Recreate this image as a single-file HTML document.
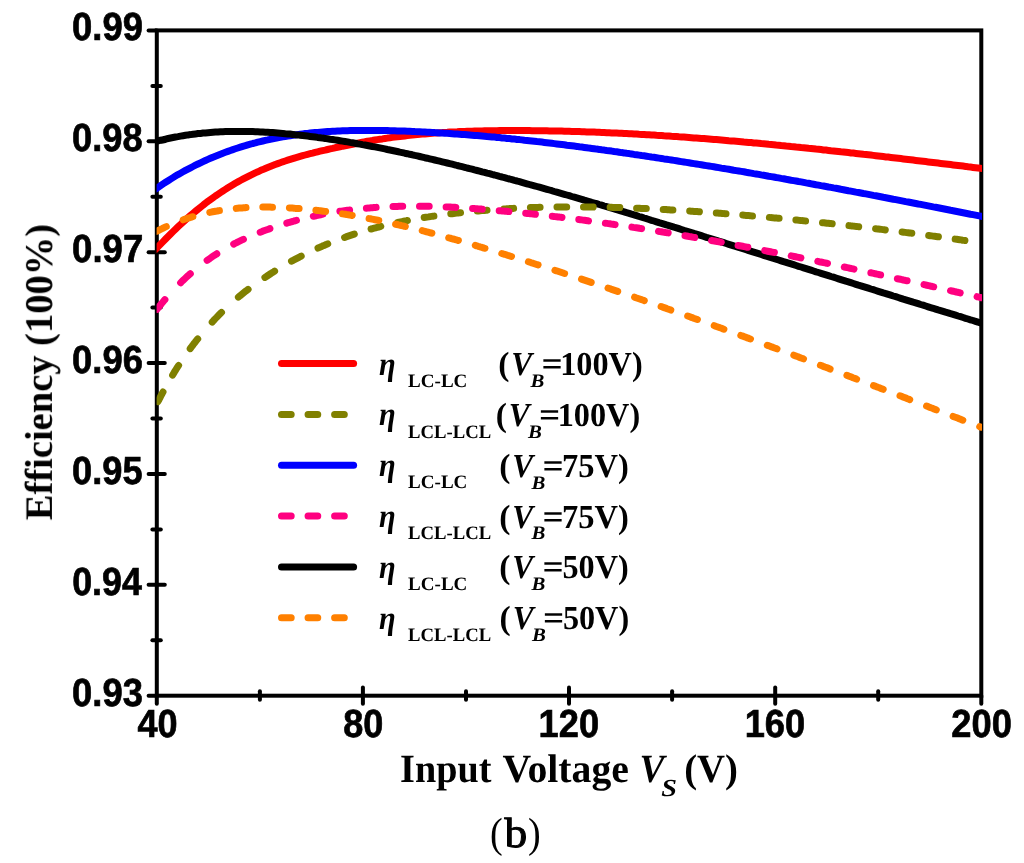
<!DOCTYPE html>
<html><head><meta charset="utf-8"><style>
html,body{margin:0;padding:0;background:#fff;overflow:hidden;}
svg{display:block;}
text{text-rendering:geometricPrecision;}
</style></head><body>
<svg width="1024" height="863" viewBox="0 0 1024 863">
<rect width="1024" height="863" fill="#fff"/>
<g fill="none" stroke="#000" stroke-width="4" stroke-linecap="round">
<rect x="156.8" y="30.4" width="824.5" height="665.3" stroke-linecap="butt"/>
<line x1="148.6" y1="695.7" x2="156.8" y2="695.7"/>
<line x1="152.4" y1="640.3" x2="160.8" y2="640.3"/>
<line x1="148.6" y1="584.8" x2="164.8" y2="584.8"/>
<line x1="152.4" y1="529.4" x2="160.8" y2="529.4"/>
<line x1="148.6" y1="473.9" x2="164.8" y2="473.9"/>
<line x1="152.4" y1="418.5" x2="160.8" y2="418.5"/>
<line x1="148.6" y1="363.1" x2="164.8" y2="363.1"/>
<line x1="152.4" y1="307.6" x2="160.8" y2="307.6"/>
<line x1="148.6" y1="252.2" x2="164.8" y2="252.2"/>
<line x1="152.4" y1="196.7" x2="160.8" y2="196.7"/>
<line x1="148.6" y1="141.3" x2="164.8" y2="141.3"/>
<line x1="152.4" y1="85.9" x2="160.8" y2="85.9"/>
<line x1="148.6" y1="30.4" x2="156.8" y2="30.4"/>
<line x1="156.8" y1="695.7" x2="156.8" y2="703.7"/>
<line x1="259.9" y1="691.3" x2="259.9" y2="699.7"/>
<line x1="362.9" y1="687.5" x2="362.9" y2="703.7"/>
<line x1="466.0" y1="691.3" x2="466.0" y2="699.7"/>
<line x1="569.0" y1="687.5" x2="569.0" y2="703.7"/>
<line x1="672.1" y1="691.3" x2="672.1" y2="699.7"/>
<line x1="775.2" y1="687.5" x2="775.2" y2="703.7"/>
<line x1="878.2" y1="691.3" x2="878.2" y2="699.7"/>
<line x1="981.3" y1="695.7" x2="981.3" y2="703.7"/>
</g>
<defs><clipPath id="c"><rect x="156.6" y="30.4" width="825.4" height="665.3"/></clipPath></defs>
<g clip-path="url(#c)" fill="none" stroke-width="7" stroke-linecap="round" stroke-linejoin="round">
<path d="M155.6,249.4 L158.1,246.7 L160.6,244.1 L163.1,241.6 L165.6,239.0 L168.1,236.5 L170.6,234.0 L173.0,231.6 L175.5,229.2 L178.0,226.8 L180.5,224.5 L183.0,222.2 L185.5,219.9 L188.0,217.7 L190.5,215.5 L193.0,213.4 L195.5,211.3 L198.0,209.2 L200.5,207.2 L203.0,205.3 L205.4,203.3 L207.9,201.4 L210.4,199.6 L212.9,197.8 L215.4,196.0 L217.9,194.3 L220.4,192.6 L222.9,191.0 L225.4,189.4 L227.9,187.8 L230.4,186.3 L232.9,184.8 L235.3,183.3 L237.8,181.9 L240.3,180.5 L242.8,179.2 L245.3,177.9 L247.8,176.6 L250.3,175.3 L252.8,174.1 L255.3,172.9 L257.8,171.8 L260.3,170.6 L262.8,169.6 L265.3,168.5 L267.7,167.5 L270.2,166.5 L272.7,165.5 L275.2,164.5 L277.7,163.6 L280.2,162.7 L282.7,161.8 L285.2,161.0 L287.7,160.2 L290.2,159.4 L292.7,158.6 L295.2,157.8 L297.7,157.1 L300.1,156.4 L302.6,155.7 L305.1,155.0 L307.6,154.3 L310.1,153.7 L312.6,153.1 L315.1,152.4 L317.6,151.8 L320.1,151.2 L322.6,150.6 L325.1,150.1 L327.6,149.5 L330.1,148.9 L332.5,148.4 L335.0,147.8 L337.5,147.3 L340.0,146.8 L342.5,146.2 L345.0,145.7 L347.5,145.2 L350.0,144.7 L352.5,144.2 L355.0,143.7 L357.5,143.2 L360.0,142.7 L362.4,142.2 L364.9,141.8 L367.4,141.3 L369.9,140.9 L372.4,140.5 L374.9,140.0 L377.4,139.6 L379.9,139.2 L382.4,138.9 L384.9,138.5 L387.4,138.1 L389.9,137.8 L392.4,137.4 L394.8,137.1 L397.3,136.8 L399.8,136.5 L402.3,136.2 L404.8,135.9 L407.3,135.6 L409.8,135.3 L412.3,135.1 L414.8,134.8 L417.3,134.6 L419.8,134.3 L422.3,134.1 L424.8,133.9 L427.2,133.7 L429.7,133.5 L432.2,133.3 L434.7,133.1 L437.2,132.9 L439.7,132.7 L442.2,132.6 L444.7,132.4 L447.2,132.3 L449.7,132.1 L452.2,132.0 L454.7,131.9 L457.2,131.8 L459.6,131.6 L462.1,131.5 L464.6,131.4 L467.1,131.3 L469.6,131.3 L472.1,131.2 L474.6,131.1 L477.1,131.0 L479.6,131.0 L482.1,130.9 L484.6,130.8 L487.1,130.8 L489.6,130.8 L492.0,130.7 L494.5,130.7 L497.0,130.7 L499.5,130.6 L502.0,130.6 L504.5,130.6 L507.0,130.6 L509.5,130.6 L512.0,130.6 L514.5,130.6 L517.0,130.6 L519.5,130.6 L521.9,130.6 L524.4,130.6 L526.9,130.6 L529.4,130.6 L531.9,130.7 L534.4,130.7 L536.9,130.7 L539.4,130.7 L541.9,130.8 L544.4,130.8 L546.9,130.8 L549.4,130.9 L551.9,130.9 L554.3,131.0 L556.8,131.0 L559.3,131.1 L561.8,131.1 L564.3,131.2 L566.8,131.3 L569.3,131.3 L571.8,131.4 L574.3,131.5 L576.8,131.6 L579.3,131.6 L581.8,131.7 L584.3,131.8 L586.7,131.9 L589.2,132.0 L591.7,132.1 L594.2,132.1 L596.7,132.2 L599.2,132.3 L601.7,132.4 L604.2,132.5 L606.7,132.7 L609.2,132.8 L611.7,132.9 L614.2,133.0 L616.7,133.1 L619.1,133.2 L621.6,133.3 L624.1,133.5 L626.6,133.6 L629.1,133.7 L631.6,133.8 L634.1,134.0 L636.6,134.1 L639.1,134.3 L641.6,134.4 L644.1,134.5 L646.6,134.7 L649.0,134.8 L651.5,135.0 L654.0,135.1 L656.5,135.3 L659.0,135.4 L661.5,135.6 L664.0,135.8 L666.5,135.9 L669.0,136.1 L671.5,136.3 L674.0,136.4 L676.5,136.6 L679.0,136.8 L681.4,136.9 L683.9,137.1 L686.4,137.3 L688.9,137.5 L691.4,137.7 L693.9,137.9 L696.4,138.0 L698.9,138.2 L701.4,138.4 L703.9,138.6 L706.4,138.8 L708.9,139.0 L711.4,139.2 L713.8,139.4 L716.3,139.6 L718.8,139.8 L721.3,140.0 L723.8,140.2 L726.3,140.4 L728.8,140.7 L731.3,140.9 L733.8,141.1 L736.3,141.3 L738.8,141.5 L741.3,141.7 L743.8,142.0 L746.2,142.2 L748.7,142.4 L751.2,142.6 L753.7,142.9 L756.2,143.1 L758.7,143.3 L761.2,143.6 L763.7,143.8 L766.2,144.0 L768.7,144.3 L771.2,144.5 L773.7,144.7 L776.1,145.0 L778.6,145.2 L781.1,145.5 L783.6,145.7 L786.1,146.0 L788.6,146.2 L791.1,146.5 L793.6,146.7 L796.1,147.0 L798.6,147.2 L801.1,147.5 L803.6,147.7 L806.1,148.0 L808.5,148.3 L811.0,148.5 L813.5,148.8 L816.0,149.1 L818.5,149.3 L821.0,149.6 L823.5,149.9 L826.0,150.1 L828.5,150.4 L831.0,150.7 L833.5,150.9 L836.0,151.2 L838.5,151.5 L840.9,151.8 L843.4,152.0 L845.9,152.3 L848.4,152.6 L850.9,152.9 L853.4,153.1 L855.9,153.4 L858.4,153.7 L860.9,154.0 L863.4,154.3 L865.9,154.5 L868.4,154.8 L870.9,155.1 L873.3,155.4 L875.8,155.7 L878.3,156.0 L880.8,156.3 L883.3,156.6 L885.8,156.9 L888.3,157.1 L890.8,157.4 L893.3,157.7 L895.8,158.0 L898.3,158.3 L900.8,158.6 L903.3,158.9 L905.7,159.2 L908.2,159.5 L910.7,159.8 L913.2,160.1 L915.7,160.4 L918.2,160.7 L920.7,161.0 L923.2,161.3 L925.7,161.6 L928.2,161.9 L930.7,162.2 L933.2,162.5 L935.6,162.8 L938.1,163.1 L940.6,163.4 L943.1,163.7 L945.6,164.0 L948.1,164.3 L950.6,164.6 L953.1,164.9 L955.6,165.2 L958.1,165.5 L960.6,165.8 L963.1,166.1 L965.6,166.4 L968.0,166.8 L970.5,167.1 L973.0,167.4 L975.5,167.7 L978.0,168.0 L980.5,168.3 L983.0,168.6" stroke="#ff0000"/>
<path d="M155.6,189.0 L158.1,187.3 L160.6,185.6 L163.1,183.9 L165.6,182.3 L168.1,180.7 L170.6,179.1 L173.0,177.6 L175.5,176.1 L178.0,174.6 L180.5,173.2 L183.0,171.8 L185.5,170.4 L188.0,169.1 L190.5,167.8 L193.0,166.5 L195.5,165.2 L198.0,164.0 L200.5,162.8 L203.0,161.6 L205.4,160.5 L207.9,159.4 L210.4,158.3 L212.9,157.2 L215.4,156.2 L217.9,155.2 L220.4,154.2 L222.9,153.2 L225.4,152.3 L227.9,151.4 L230.4,150.5 L232.9,149.6 L235.3,148.8 L237.8,148.0 L240.3,147.2 L242.8,146.4 L245.3,145.7 L247.8,144.9 L250.3,144.2 L252.8,143.5 L255.3,142.9 L257.8,142.2 L260.3,141.6 L262.8,141.0 L265.3,140.4 L267.7,139.9 L270.2,139.3 L272.7,138.8 L275.2,138.3 L277.7,137.8 L280.2,137.4 L282.7,136.9 L285.2,136.5 L287.7,136.1 L290.2,135.7 L292.7,135.3 L295.2,134.9 L297.7,134.6 L300.1,134.2 L302.6,133.9 L305.1,133.6 L307.6,133.4 L310.1,133.1 L312.6,132.8 L315.1,132.6 L317.6,132.4 L320.1,132.2 L322.6,132.0 L325.1,131.8 L327.6,131.6 L330.1,131.4 L332.5,131.3 L335.0,131.2 L337.5,131.0 L340.0,130.9 L342.5,130.8 L345.0,130.7 L347.5,130.7 L350.0,130.6 L352.5,130.5 L355.0,130.5 L357.5,130.4 L360.0,130.4 L362.4,130.4 L364.9,130.4 L367.4,130.4 L369.9,130.4 L372.4,130.4 L374.9,130.4 L377.4,130.4 L379.9,130.5 L382.4,130.5 L384.9,130.6 L387.4,130.6 L389.9,130.7 L392.4,130.7 L394.8,130.8 L397.3,130.9 L399.8,131.0 L402.3,131.1 L404.8,131.1 L407.3,131.2 L409.8,131.3 L412.3,131.4 L414.8,131.6 L417.3,131.7 L419.8,131.8 L422.3,131.9 L424.8,132.0 L427.2,132.2 L429.7,132.3 L432.2,132.4 L434.7,132.6 L437.2,132.7 L439.7,132.9 L442.2,133.0 L444.7,133.2 L447.2,133.3 L449.7,133.5 L452.2,133.7 L454.7,133.9 L457.2,134.0 L459.6,134.2 L462.1,134.4 L464.6,134.6 L467.1,134.8 L469.6,135.0 L472.1,135.2 L474.6,135.4 L477.1,135.6 L479.6,135.8 L482.1,136.0 L484.6,136.2 L487.1,136.5 L489.6,136.7 L492.0,136.9 L494.5,137.1 L497.0,137.4 L499.5,137.6 L502.0,137.9 L504.5,138.1 L507.0,138.4 L509.5,138.6 L512.0,138.9 L514.5,139.1 L517.0,139.4 L519.5,139.6 L521.9,139.9 L524.4,140.2 L526.9,140.4 L529.4,140.7 L531.9,141.0 L534.4,141.3 L536.9,141.6 L539.4,141.8 L541.9,142.1 L544.4,142.4 L546.9,142.7 L549.4,143.0 L551.9,143.3 L554.3,143.6 L556.8,143.9 L559.3,144.2 L561.8,144.5 L564.3,144.8 L566.8,145.2 L569.3,145.5 L571.8,145.8 L574.3,146.1 L576.8,146.4 L579.3,146.8 L581.8,147.1 L584.3,147.4 L586.7,147.7 L589.2,148.1 L591.7,148.4 L594.2,148.7 L596.7,149.1 L599.2,149.4 L601.7,149.8 L604.2,150.1 L606.7,150.5 L609.2,150.8 L611.7,151.1 L614.2,151.5 L616.7,151.8 L619.1,152.2 L621.6,152.6 L624.1,152.9 L626.6,153.3 L629.1,153.6 L631.6,154.0 L634.1,154.4 L636.6,154.7 L639.1,155.1 L641.6,155.5 L644.1,155.8 L646.6,156.2 L649.0,156.6 L651.5,157.0 L654.0,157.3 L656.5,157.7 L659.0,158.1 L661.5,158.5 L664.0,158.9 L666.5,159.2 L669.0,159.6 L671.5,160.0 L674.0,160.4 L676.5,160.8 L679.0,161.2 L681.4,161.6 L683.9,162.0 L686.4,162.4 L688.9,162.8 L691.4,163.2 L693.9,163.6 L696.4,164.0 L698.9,164.4 L701.4,164.8 L703.9,165.2 L706.4,165.6 L708.9,166.0 L711.4,166.4 L713.8,166.8 L716.3,167.2 L718.8,167.6 L721.3,168.1 L723.8,168.5 L726.3,168.9 L728.8,169.3 L731.3,169.7 L733.8,170.2 L736.3,170.6 L738.8,171.0 L741.3,171.4 L743.8,171.8 L746.2,172.3 L748.7,172.7 L751.2,173.1 L753.7,173.6 L756.2,174.0 L758.7,174.4 L761.2,174.9 L763.7,175.3 L766.2,175.7 L768.7,176.2 L771.2,176.6 L773.7,177.0 L776.1,177.5 L778.6,177.9 L781.1,178.4 L783.6,178.8 L786.1,179.3 L788.6,179.7 L791.1,180.2 L793.6,180.6 L796.1,181.0 L798.6,181.5 L801.1,181.9 L803.6,182.4 L806.1,182.9 L808.5,183.3 L811.0,183.8 L813.5,184.2 L816.0,184.7 L818.5,185.1 L821.0,185.6 L823.5,186.0 L826.0,186.5 L828.5,187.0 L831.0,187.4 L833.5,187.9 L836.0,188.3 L838.5,188.8 L840.9,189.3 L843.4,189.7 L845.9,190.2 L848.4,190.7 L850.9,191.1 L853.4,191.6 L855.9,192.1 L858.4,192.5 L860.9,193.0 L863.4,193.5 L865.9,193.9 L868.4,194.4 L870.9,194.9 L873.3,195.4 L875.8,195.8 L878.3,196.3 L880.8,196.8 L883.3,197.3 L885.8,197.7 L888.3,198.2 L890.8,198.7 L893.3,199.2 L895.8,199.6 L898.3,200.1 L900.8,200.6 L903.3,201.1 L905.7,201.6 L908.2,202.0 L910.7,202.5 L913.2,203.0 L915.7,203.5 L918.2,204.0 L920.7,204.4 L923.2,204.9 L925.7,205.4 L928.2,205.9 L930.7,206.4 L933.2,206.9 L935.6,207.3 L938.1,207.8 L940.6,208.3 L943.1,208.8 L945.6,209.3 L948.1,209.8 L950.6,210.3 L953.1,210.7 L955.6,211.2 L958.1,211.7 L960.6,212.2 L963.1,212.7 L965.6,213.2 L968.0,213.7 L970.5,214.2 L973.0,214.6 L975.5,215.1 L978.0,215.6 L980.5,216.1 L983.0,216.6" stroke="#0000ff"/>
<path d="M155.6,141.5 L158.1,140.9 L160.6,140.2 L163.1,139.7 L165.6,139.1 L168.1,138.5 L170.6,138.0 L173.0,137.5 L175.5,137.0 L178.0,136.6 L180.5,136.1 L183.0,135.7 L185.5,135.3 L188.0,134.9 L190.5,134.6 L193.0,134.2 L195.5,133.9 L198.0,133.6 L200.5,133.4 L203.0,133.1 L205.4,132.9 L207.9,132.7 L210.4,132.5 L212.9,132.3 L215.4,132.1 L217.9,132.0 L220.4,131.8 L222.9,131.7 L225.4,131.6 L227.9,131.6 L230.4,131.5 L232.9,131.4 L235.3,131.4 L237.8,131.4 L240.3,131.4 L242.8,131.4 L245.3,131.4 L247.8,131.5 L250.3,131.5 L252.8,131.6 L255.3,131.7 L257.8,131.8 L260.3,131.9 L262.8,132.0 L265.3,132.2 L267.7,132.3 L270.2,132.5 L272.7,132.6 L275.2,132.8 L277.7,133.0 L280.2,133.2 L282.7,133.4 L285.2,133.7 L287.7,133.9 L290.2,134.1 L292.7,134.4 L295.2,134.7 L297.7,134.9 L300.1,135.2 L302.6,135.5 L305.1,135.8 L307.6,136.1 L310.1,136.4 L312.6,136.7 L315.1,137.0 L317.6,137.4 L320.1,137.7 L322.6,138.1 L325.1,138.4 L327.6,138.8 L330.1,139.2 L332.5,139.5 L335.0,139.9 L337.5,140.3 L340.0,140.7 L342.5,141.1 L345.0,141.5 L347.5,141.9 L350.0,142.4 L352.5,142.8 L355.0,143.2 L357.5,143.7 L360.0,144.1 L362.4,144.6 L364.9,145.0 L367.4,145.5 L369.9,146.0 L372.4,146.5 L374.9,146.9 L377.4,147.4 L379.9,147.9 L382.4,148.4 L384.9,148.9 L387.4,149.5 L389.9,150.0 L392.4,150.5 L394.8,151.0 L397.3,151.5 L399.8,152.1 L402.3,152.6 L404.8,153.2 L407.3,153.7 L409.8,154.3 L412.3,154.8 L414.8,155.4 L417.3,155.9 L419.8,156.5 L422.3,157.1 L424.8,157.7 L427.2,158.2 L429.7,158.8 L432.2,159.4 L434.7,160.0 L437.2,160.6 L439.7,161.2 L442.2,161.8 L444.7,162.4 L447.2,163.0 L449.7,163.6 L452.2,164.2 L454.7,164.8 L457.2,165.5 L459.6,166.1 L462.1,166.7 L464.6,167.3 L467.1,168.0 L469.6,168.6 L472.1,169.2 L474.6,169.9 L477.1,170.5 L479.6,171.1 L482.1,171.8 L484.6,172.4 L487.1,173.1 L489.6,173.7 L492.0,174.4 L494.5,175.0 L497.0,175.7 L499.5,176.4 L502.0,177.0 L504.5,177.7 L507.0,178.4 L509.5,179.0 L512.0,179.7 L514.5,180.4 L517.0,181.0 L519.5,181.7 L521.9,182.4 L524.4,183.1 L526.9,183.8 L529.4,184.5 L531.9,185.2 L534.4,185.8 L536.9,186.5 L539.4,187.2 L541.9,187.9 L544.4,188.6 L546.9,189.3 L549.4,190.0 L551.9,190.7 L554.3,191.5 L556.8,192.2 L559.3,192.9 L561.8,193.6 L564.3,194.3 L566.8,195.0 L569.3,195.7 L571.8,196.5 L574.3,197.2 L576.8,197.9 L579.3,198.6 L581.8,199.3 L584.3,200.1 L586.7,200.8 L589.2,201.5 L591.7,202.3 L594.2,203.0 L596.7,203.7 L599.2,204.5 L601.7,205.2 L604.2,206.0 L606.7,206.7 L609.2,207.4 L611.7,208.2 L614.2,208.9 L616.7,209.7 L619.1,210.4 L621.6,211.2 L624.1,211.9 L626.6,212.7 L629.1,213.4 L631.6,214.2 L634.1,214.9 L636.6,215.7 L639.1,216.5 L641.6,217.2 L644.1,218.0 L646.6,218.7 L649.0,219.5 L651.5,220.3 L654.0,221.0 L656.5,221.8 L659.0,222.6 L661.5,223.3 L664.0,224.1 L666.5,224.9 L669.0,225.6 L671.5,226.4 L674.0,227.2 L676.5,227.9 L679.0,228.7 L681.4,229.5 L683.9,230.3 L686.4,231.0 L688.9,231.8 L691.4,232.6 L693.9,233.4 L696.4,234.1 L698.9,234.9 L701.4,235.7 L703.9,236.5 L706.4,237.3 L708.9,238.0 L711.4,238.8 L713.8,239.6 L716.3,240.4 L718.8,241.2 L721.3,241.9 L723.8,242.7 L726.3,243.5 L728.8,244.3 L731.3,245.1 L733.8,245.9 L736.3,246.6 L738.8,247.4 L741.3,248.2 L743.8,249.0 L746.2,249.8 L748.7,250.6 L751.2,251.3 L753.7,252.1 L756.2,252.9 L758.7,253.7 L761.2,254.5 L763.7,255.3 L766.2,256.1 L768.7,256.8 L771.2,257.6 L773.7,258.4 L776.1,259.2 L778.6,260.0 L781.1,260.8 L783.6,261.6 L786.1,262.3 L788.6,263.1 L791.1,263.9 L793.6,264.7 L796.1,265.5 L798.6,266.3 L801.1,267.0 L803.6,267.8 L806.1,268.6 L808.5,269.4 L811.0,270.2 L813.5,271.0 L816.0,271.8 L818.5,272.5 L821.0,273.3 L823.5,274.1 L826.0,274.9 L828.5,275.7 L831.0,276.5 L833.5,277.2 L836.0,278.0 L838.5,278.8 L840.9,279.6 L843.4,280.4 L845.9,281.2 L848.4,281.9 L850.9,282.7 L853.4,283.5 L855.9,284.3 L858.4,285.1 L860.9,285.8 L863.4,286.6 L865.9,287.4 L868.4,288.2 L870.9,289.0 L873.3,289.7 L875.8,290.5 L878.3,291.3 L880.8,292.1 L883.3,292.9 L885.8,293.6 L888.3,294.4 L890.8,295.2 L893.3,296.0 L895.8,296.7 L898.3,297.5 L900.8,298.3 L903.3,299.1 L905.7,299.8 L908.2,300.6 L910.7,301.4 L913.2,302.2 L915.7,302.9 L918.2,303.7 L920.7,304.5 L923.2,305.2 L925.7,306.0 L928.2,306.8 L930.7,307.6 L933.2,308.3 L935.6,309.1 L938.1,309.9 L940.6,310.6 L943.1,311.4 L945.6,312.2 L948.1,312.9 L950.6,313.7 L953.1,314.4 L955.6,315.2 L958.1,316.0 L960.6,316.7 L963.1,317.5 L965.6,318.3 L968.0,319.0 L970.5,319.8 L973.0,320.5 L975.5,321.3 L978.0,322.1 L980.5,322.8 L983.0,323.6" stroke="#000000"/>
<path d="M157.9,401.7 L158.6,400.4 L159.3,398.9 L160.1,397.5 L160.8,396.0 L161.6,394.6 L162.3,393.2 L163.0,392.0M172.6,375.2 L173.3,373.9 L174.3,372.2 L175.3,370.6 L176.3,369.0 L177.3,367.4 L178.3,365.9 L178.6,365.5M190.2,348.6 L191.3,347.1 L192.6,345.5 L193.8,343.8 L195.1,342.2 L196.3,340.6 L197.6,339.0 L197.7,338.9M212.2,322.1 L213.6,320.5 L215.1,318.9 L216.6,317.4 L218.1,315.8 L219.6,314.3 L221.1,312.8 L221.5,312.4M238.4,297.1 L239.8,295.9 L241.3,294.7 L242.8,293.5 L244.3,292.3 L245.8,291.1 L247.3,290.0 L248.1,289.4M264.9,277.4 L266.4,276.5 L267.9,275.5 L269.4,274.5 L270.9,273.5 L272.4,272.6 L273.9,271.6 L274.6,271.1M291.5,261.2 L292.9,260.5 L294.4,259.7 L295.9,258.9 L297.4,258.1 L298.9,257.3 L300.4,256.5 L301.2,256.1M318.0,248.0 L319.4,247.4 L320.9,246.8 L322.4,246.1 L323.9,245.5 L325.4,244.8 L326.9,244.2 L327.7,243.8M344.6,237.4 L345.9,236.9 L347.4,236.4 L348.9,235.9 L350.4,235.4 L351.9,234.9 L353.4,234.4 L354.3,234.1M371.1,229.0 L372.6,228.6 L374.1,228.2 L375.6,227.8 L377.1,227.4 L378.6,227.0 L380.1,226.6 L380.8,226.4M397.7,222.5 L399.1,222.2 L400.6,221.9 L402.1,221.6 L403.6,221.3 L405.1,221.0 L406.6,220.7 L407.4,220.5M424.2,217.5 L425.6,217.3 L427.1,217.1 L428.6,216.9 L430.1,216.6 L431.6,216.4 L433.1,216.2 L433.9,216.1M450.8,213.8 L452.1,213.7 L453.6,213.5 L455.1,213.3 L456.6,213.1 L458.1,213.0 L459.6,212.8 L460.5,212.7M477.3,211.0 L478.6,210.9 L480.1,210.8 L481.6,210.6 L483.1,210.5 L484.6,210.4 L486.1,210.3 L487.0,210.2M503.9,209.0 L505.4,208.9 L506.9,208.8 L508.4,208.7 L509.9,208.6 L511.4,208.5 L512.9,208.5 L513.6,208.4M530.4,207.6 L531.9,207.6 L533.4,207.5 L534.9,207.5 L536.4,207.4 L537.9,207.4 L539.4,207.3 L540.1,207.3M557.0,207.0 L558.4,206.9 L559.9,206.9 L561.4,206.9 L562.9,206.9 L564.4,206.9 L565.9,206.9 L566.7,206.9M583.5,206.9 L584.9,206.9 L586.4,206.9 L587.9,206.9 L589.4,206.9 L590.9,206.9 L592.4,206.9 L593.2,207.0M610.1,207.3 L611.4,207.3 L612.9,207.4 L614.4,207.4 L615.9,207.4 L617.4,207.5 L618.9,207.5 L619.8,207.6M636.6,208.2 L638.1,208.2 L639.6,208.3 L641.1,208.4 L642.6,208.4 L644.1,208.5 L645.6,208.6 L646.3,208.6M663.2,209.5 L664.6,209.5 L666.1,209.6 L667.6,209.7 L669.1,209.8 L670.6,209.9 L672.1,210.0 L672.9,210.0M689.7,211.1 L691.1,211.2 L692.6,211.3 L694.1,211.4 L695.6,211.5 L697.1,211.6 L698.6,211.7 L699.4,211.8M716.3,213.0 L717.6,213.1 L719.1,213.2 L720.6,213.3 L722.1,213.4 L723.6,213.6 L725.1,213.7 L726.0,213.7M742.8,215.1 L744.1,215.2 L745.6,215.4 L747.1,215.5 L748.6,215.6 L750.1,215.7 L751.6,215.9 L752.5,215.9M769.4,217.4 L770.9,217.6 L772.4,217.7 L773.9,217.9 L775.4,218.0 L776.9,218.1 L778.4,218.3 L779.1,218.3M795.9,220.0 L797.4,220.1 L798.9,220.3 L800.4,220.4 L801.9,220.6 L803.4,220.7 L804.9,220.9 L805.6,220.9M822.5,222.7 L823.9,222.8 L825.4,223.0 L826.9,223.2 L828.4,223.3 L829.9,223.5 L831.4,223.6 L832.2,223.7M849.0,225.6 L850.4,225.8 L851.9,225.9 L853.4,226.1 L854.9,226.3 L856.4,226.4 L857.9,226.6 L858.7,226.7M875.6,228.7 L876.9,228.9 L878.4,229.0 L879.9,229.2 L881.4,229.4 L882.9,229.6 L884.4,229.8 L885.3,229.9M902.1,232.0 L903.6,232.2 L905.1,232.4 L906.6,232.6 L908.1,232.8 L909.6,233.0 L911.1,233.1 L911.8,233.2M928.7,235.5 L930.1,235.7 L931.6,235.9 L933.1,236.1 L934.6,236.3 L936.1,236.5 L937.6,236.7 L938.4,236.8M955.2,239.1 L956.6,239.3 L958.1,239.5 L959.6,239.7 L961.1,239.9 L962.6,240.2 L964.1,240.4 L964.9,240.5" stroke="#808000"/>
<path d="M157.0,309.3 L158.1,307.9 L159.3,306.3 L160.6,304.8 L161.8,303.2 L163.1,301.7 L164.3,300.3 L164.9,299.6M180.6,282.8 L181.8,281.5 L183.3,280.1 L184.8,278.7 L186.3,277.3 L187.8,275.9 L189.3,274.6 L190.3,273.8M207.1,260.3 L208.6,259.3 L210.1,258.3 L211.6,257.2 L213.1,256.2 L214.6,255.2 L216.1,254.3 L216.8,253.8M233.7,244.1 L235.1,243.3 L236.6,242.6 L238.1,241.8 L239.6,241.1 L241.1,240.4 L242.6,239.7 L243.4,239.3M260.2,232.2 L261.6,231.7 L263.1,231.1 L264.6,230.5 L266.1,230.0 L267.6,229.5 L269.1,228.9 L269.9,228.6M286.8,223.1 L288.1,222.7 L289.6,222.3 L291.1,221.9 L292.6,221.5 L294.1,221.0 L295.6,220.6 L296.5,220.4M313.3,216.3 L314.6,216.0 L316.1,215.7 L317.6,215.3 L319.1,215.0 L320.6,214.7 L322.1,214.4 L323.0,214.2M339.9,211.3 L341.4,211.1 L342.9,210.9 L344.4,210.7 L345.9,210.5 L347.4,210.3 L348.9,210.1 L349.6,210.0M366.4,208.2 L367.9,208.1 L369.4,207.9 L370.9,207.8 L372.4,207.7 L373.9,207.6 L375.4,207.5 L376.1,207.4M393.0,206.5 L394.4,206.5 L395.9,206.4 L397.4,206.4 L398.9,206.3 L400.4,206.3 L401.9,206.3 L402.7,206.3M419.5,206.2 L420.9,206.2 L422.4,206.2 L423.9,206.2 L425.4,206.2 L426.9,206.3 L428.4,206.3 L429.2,206.3M446.1,206.9 L447.4,206.9 L448.9,207.0 L450.4,207.1 L451.9,207.2 L453.4,207.2 L454.9,207.3 L455.8,207.4M472.6,208.5 L474.1,208.6 L475.6,208.7 L477.1,208.8 L478.6,208.9 L480.1,209.0 L481.6,209.1 L482.3,209.2M499.2,210.7 L500.6,210.8 L502.1,210.9 L503.6,211.1 L505.1,211.2 L506.6,211.3 L508.1,211.5 L508.9,211.6M525.7,213.3 L527.1,213.4 L528.6,213.6 L530.1,213.7 L531.6,213.9 L533.1,214.1 L534.6,214.2 L535.4,214.3M552.3,216.3 L553.6,216.4 L555.1,216.6 L556.6,216.8 L558.1,217.0 L559.6,217.1 L561.1,217.3 L562.0,217.4M578.8,219.6 L580.1,219.7 L581.6,219.9 L583.1,220.1 L584.6,220.3 L586.1,220.5 L587.6,220.7 L588.5,220.9M605.4,223.2 L606.9,223.4 L608.4,223.6 L609.9,223.8 L611.4,224.1 L612.9,224.3 L614.4,224.5 L615.1,224.6M631.9,227.1 L633.4,227.4 L634.9,227.6 L636.4,227.8 L637.9,228.0 L639.4,228.3 L640.9,228.5 L641.6,228.6M658.5,231.3 L659.9,231.6 L661.4,231.8 L662.9,232.1 L664.4,232.3 L665.9,232.6 L667.4,232.8 L668.2,232.9M685.0,235.8 L686.4,236.0 L687.9,236.3 L689.4,236.6 L690.9,236.8 L692.4,237.1 L693.9,237.4 L694.7,237.5M711.6,240.5 L712.9,240.8 L714.4,241.0 L715.9,241.3 L717.4,241.6 L718.9,241.8 L720.4,242.1 L721.3,242.3M738.1,245.5 L739.6,245.7 L741.1,246.0 L742.6,246.3 L744.1,246.6 L745.6,246.9 L747.1,247.2 L747.8,247.3M764.7,250.6 L766.1,250.9 L767.6,251.2 L769.1,251.5 L770.6,251.8 L772.1,252.1 L773.6,252.4 L774.4,252.5M791.2,255.9 L792.6,256.2 L794.1,256.5 L795.6,256.8 L797.1,257.1 L798.6,257.4 L800.1,257.7 L800.9,257.9M817.8,261.4 L819.1,261.7 L820.6,262.0 L822.1,262.3 L823.6,262.6 L825.1,262.9 L826.6,263.2 L827.5,263.4M844.3,267.0 L845.6,267.3 L847.1,267.6 L848.6,267.9 L850.1,268.3 L851.6,268.6 L853.1,268.9 L854.0,269.1M870.9,272.8 L872.4,273.1 L873.9,273.4 L875.4,273.8 L876.9,274.1 L878.4,274.4 L879.9,274.8 L880.6,274.9M897.4,278.7 L898.9,279.0 L900.4,279.3 L901.9,279.6 L903.4,280.0 L904.9,280.3 L906.4,280.7 L907.1,280.8M924.0,284.6 L925.4,284.9 L926.9,285.3 L928.4,285.6 L929.9,285.9 L931.4,286.3 L932.9,286.6 L933.7,286.8M950.5,290.7 L951.9,291.0 L953.4,291.3 L954.9,291.6 L956.4,292.0 L957.9,292.3 L959.4,292.7 L960.2,292.9M977.1,296.7 L977.6,296.9 L978.4,297.0 L979.1,297.2 L979.9,297.4 L980.6,297.5 L981.1,297.7" stroke="#ff0080"/>
<path d="M156.6,231.3 L158.1,230.6 L159.6,229.8 L161.1,229.1 L162.6,228.4 L164.1,227.6 L165.6,226.9 L166.3,226.6M183.2,219.8 L184.6,219.3 L186.1,218.8 L187.6,218.3 L189.1,217.8 L190.6,217.4 L192.1,216.9 L192.9,216.7M209.8,212.4 L211.1,212.1 L212.6,211.8 L214.1,211.5 L215.6,211.2 L217.1,211.0 L218.6,210.7 L219.4,210.6M236.3,208.4 L237.6,208.2 L239.1,208.1 L240.6,208.0 L242.1,207.9 L243.6,207.8 L245.1,207.7 L246.0,207.6M262.8,207.1 L264.1,207.1 L265.6,207.1 L267.1,207.1 L268.6,207.1 L270.1,207.1 L271.6,207.2 L272.5,207.2M289.4,207.9 L290.9,208.0 L292.4,208.1 L293.9,208.2 L295.4,208.4 L296.9,208.5 L298.4,208.6 L299.1,208.6M315.9,210.3 L317.4,210.5 L318.9,210.6 L320.4,210.8 L321.9,211.0 L323.4,211.2 L324.9,211.4 L325.6,211.5M342.5,213.9 L343.9,214.1 L345.4,214.3 L346.9,214.6 L348.4,214.8 L349.9,215.1 L351.4,215.3 L352.2,215.5M369.1,218.6 L370.4,218.8 L371.9,219.1 L373.4,219.4 L374.9,219.7 L376.4,220.0 L377.9,220.3 L378.8,220.5M395.6,224.2 L397.1,224.5 L398.6,224.9 L400.1,225.2 L401.6,225.6 L403.1,225.9 L404.6,226.3 L405.3,226.5M422.2,230.6 L423.6,231.0 L425.1,231.4 L426.6,231.8 L428.1,232.2 L429.6,232.6 L431.1,233.0 L431.9,233.2M448.7,237.8 L450.1,238.1 L451.6,238.6 L453.1,239.0 L454.6,239.4 L456.1,239.8 L457.6,240.3 L458.4,240.5M475.3,245.4 L476.6,245.8 L478.1,246.3 L479.6,246.7 L481.1,247.2 L482.6,247.6 L484.1,248.1 L485.0,248.3M501.8,253.5 L503.1,253.9 L504.6,254.3 L506.1,254.8 L507.6,255.3 L509.1,255.7 L510.6,256.2 L511.5,256.5M528.4,261.8 L529.9,262.3 L531.4,262.8 L532.9,263.2 L534.4,263.7 L535.9,264.2 L537.4,264.7 L538.1,264.9M554.9,270.4 L556.4,270.8 L557.9,271.3 L559.4,271.8 L560.9,272.3 L562.4,272.8 L563.9,273.3 L564.6,273.5M581.5,279.1 L582.9,279.6 L584.4,280.1 L585.9,280.6 L587.4,281.1 L588.9,281.6 L590.4,282.1 L591.2,282.4M608.0,288.1 L609.4,288.5 L610.9,289.1 L612.4,289.6 L613.9,290.1 L615.4,290.6 L616.9,291.1 L617.7,291.4M634.6,297.2 L635.9,297.7 L637.4,298.2 L638.9,298.7 L640.4,299.2 L641.9,299.8 L643.4,300.3 L644.3,300.6M661.1,306.5 L662.6,307.1 L664.1,307.6 L665.6,308.1 L667.1,308.7 L668.6,309.2 L670.1,309.7 L670.8,310.0M687.7,316.0 L689.1,316.5 L690.6,317.1 L692.1,317.6 L693.6,318.2 L695.1,318.7 L696.6,319.2 L697.4,319.5M714.2,325.6 L715.6,326.2 L717.1,326.7 L718.6,327.2 L720.1,327.8 L721.6,328.3 L723.1,328.9 L723.9,329.2M740.8,335.4 L742.1,335.9 L743.6,336.4 L745.1,337.0 L746.6,337.6 L748.1,338.1 L749.6,338.7 L750.5,339.0M767.3,345.3 L768.6,345.7 L770.1,346.3 L771.6,346.9 L773.1,347.4 L774.6,348.0 L776.1,348.5 L777.0,348.9M793.8,355.2 L795.1,355.7 L796.6,356.3 L798.1,356.8 L799.6,357.4 L801.1,358.0 L802.6,358.5 L803.5,358.9M820.4,365.3 L821.9,365.8 L823.4,366.4 L824.9,367.0 L826.4,367.5 L827.9,368.1 L829.4,368.7 L830.1,369.0M846.9,375.4 L848.4,375.9 L849.9,376.5 L851.4,377.1 L852.9,377.7 L854.4,378.2 L855.9,378.8 L856.6,379.1M873.5,385.6 L874.9,386.1 L876.4,386.7 L877.9,387.3 L879.4,387.8 L880.9,388.4 L882.4,389.0 L883.2,389.3M900.0,395.8 L901.4,396.3 L902.9,396.9 L904.4,397.5 L905.9,398.1 L907.4,398.7 L908.9,399.2 L909.7,399.6M926.6,406.1 L927.9,406.6 L929.4,407.2 L930.9,407.8 L932.4,408.3 L933.9,408.9 L935.4,409.5 L936.3,409.9M953.1,416.4 L954.6,417.0 L956.1,417.5 L957.6,418.1 L959.1,418.7 L960.6,419.3 L962.1,419.9 L962.8,420.2M979.7,426.7 L979.9,426.8 L980.1,426.9 L980.4,427.0 L980.6,427.1 L980.9,427.1 L981.1,427.2" stroke="#ff8000"/>
</g>

<g fill="none" stroke-width="7" stroke-linecap="round">
<line x1="281.5" y1="363.5" x2="353.6" y2="363.5" stroke="#ff0000"/>
<line x1="281.5" y1="414.4" x2="353.6" y2="414.4" stroke="#808000" stroke-dasharray="9.7 16.85"/>
<line x1="281.5" y1="465.2" x2="353.6" y2="465.2" stroke="#0000ff"/>
<line x1="281.5" y1="516.1" x2="353.6" y2="516.1" stroke="#ff0080" stroke-dasharray="9.7 16.85"/>
<line x1="281.5" y1="566.9" x2="353.6" y2="566.9" stroke="#000000"/>
<line x1="281.5" y1="617.8" x2="353.6" y2="617.8" stroke="#ff8000" stroke-dasharray="9.7 16.85"/>
</g>
<g style="opacity:0.999">
<text transform="translate(72.11,705.60) scale(0.9287,1)" style="font-family:'Liberation Sans',sans-serif;font-weight:bold;font-style:normal;font-size:39.2px;stroke:#000;stroke-width:0.7px">0.93</text>
<text transform="translate(72.13,594.72) scale(0.9137,1)" style="font-family:'Liberation Sans',sans-serif;font-weight:bold;font-style:normal;font-size:39.2px;stroke:#000;stroke-width:0.7px">0.94</text>
<text transform="translate(72.12,483.84) scale(0.9246,1)" style="font-family:'Liberation Sans',sans-serif;font-weight:bold;font-style:normal;font-size:39.2px;stroke:#000;stroke-width:0.7px">0.95</text>
<text transform="translate(72.11,372.96) scale(0.9287,1)" style="font-family:'Liberation Sans',sans-serif;font-weight:bold;font-style:normal;font-size:39.2px;stroke:#000;stroke-width:0.7px">0.96</text>
<text transform="translate(72.10,262.08) scale(0.9326,1)" style="font-family:'Liberation Sans',sans-serif;font-weight:bold;font-style:normal;font-size:39.2px;stroke:#000;stroke-width:0.7px">0.97</text>
<text transform="translate(72.11,151.20) scale(0.9260,1)" style="font-family:'Liberation Sans',sans-serif;font-weight:bold;font-style:normal;font-size:39.2px;stroke:#000;stroke-width:0.7px">0.98</text>
<text transform="translate(72.11,40.32) scale(0.9292,1)" style="font-family:'Liberation Sans',sans-serif;font-weight:bold;font-style:normal;font-size:39.2px;stroke:#000;stroke-width:0.7px">0.99</text>
<text transform="translate(137.41,737.40) scale(0.9201,1)" style="font-family:'Liberation Sans',sans-serif;font-weight:bold;font-style:normal;font-size:39.2px;stroke:#000;stroke-width:0.7px">40</text>
<text transform="translate(343.23,737.40) scale(0.9198,1)" style="font-family:'Liberation Sans',sans-serif;font-weight:bold;font-style:normal;font-size:39.2px;stroke:#000;stroke-width:0.7px">80</text>
<text transform="translate(538.57,737.40) scale(0.9256,1)" style="font-family:'Liberation Sans',sans-serif;font-weight:bold;font-style:normal;font-size:39.2px;stroke:#000;stroke-width:0.7px">120</text>
<text transform="translate(744.69,737.40) scale(0.9256,1)" style="font-family:'Liberation Sans',sans-serif;font-weight:bold;font-style:normal;font-size:39.2px;stroke:#000;stroke-width:0.7px">160</text>
<text transform="translate(951.32,737.40) scale(0.9258,1)" style="font-family:'Liberation Sans',sans-serif;font-weight:bold;font-style:normal;font-size:39.2px;stroke:#000;stroke-width:0.7px">200</text>
<text transform="translate(400.11,781.80) scale(0.9543,1)" style="font-family:'Liberation Serif',serif;font-weight:bold;font-style:normal;font-size:40px">Input</text>
<text transform="translate(502.45,781.80) scale(0.9924,1)" style="font-family:'Liberation Serif',serif;font-weight:bold;font-style:normal;font-size:40px">Voltage</text>
<text transform="translate(639.61,781.80) scale(0.9353,1)" style="font-family:'Liberation Serif',serif;font-weight:bold;font-style:italic;font-size:40px">V</text>
<text transform="translate(661.19,796.30) scale(1.1519,1)" style="font-family:'Liberation Serif',serif;font-weight:bold;font-style:italic;font-size:24.5px">S</text>
<text transform="translate(684.20,781.80) scale(0.9690,1)" style="font-family:'Liberation Serif',serif;font-weight:bold;font-style:normal;font-size:40px">(V)</text>
<text transform="translate(378.88,374.50) scale(0.9187,1)" style="font-family:'Liberation Serif',serif;font-weight:bold;font-style:italic;font-size:33px">η</text>
<text transform="translate(408.07,386.70) scale(1.0027,1)" style="font-family:'Liberation Serif',serif;font-weight:bold;font-style:normal;font-size:19px">LC-LC</text>
<text transform="translate(498.13,375.00) scale(1.0000,1)" style="font-family:'Liberation Serif',serif;font-weight:bold;font-style:normal;font-size:33.5px">(</text>
<text transform="translate(511.26,375.00) scale(0.9358,1)" style="font-family:'Liberation Serif',serif;font-weight:bold;font-style:italic;font-size:33.5px">V</text>
<text transform="translate(530.49,386.80) scale(1.0952,1)" style="font-family:'Liberation Serif',serif;font-weight:bold;font-style:italic;font-size:19px">B</text>
<text transform="translate(541.55,375.00) scale(1.1109,1)" style="font-family:'Liberation Serif',serif;font-weight:bold;font-style:normal;font-size:33.5px">=</text>
<text transform="translate(560.22,375.00) scale(0.9626,1)" style="font-family:'Liberation Serif',serif;font-weight:bold;font-style:normal;font-size:33.5px">100V)</text>
<text transform="translate(378.88,425.36) scale(0.9187,1)" style="font-family:'Liberation Serif',serif;font-weight:bold;font-style:italic;font-size:33px">η</text>
<text transform="translate(408.08,437.56) scale(0.9839,1)" style="font-family:'Liberation Serif',serif;font-weight:bold;font-style:normal;font-size:19px">LCL-LCL</text>
<text transform="translate(495.63,425.86) scale(1.0000,1)" style="font-family:'Liberation Serif',serif;font-weight:bold;font-style:normal;font-size:33.5px">(</text>
<text transform="translate(508.76,425.86) scale(0.9358,1)" style="font-family:'Liberation Serif',serif;font-weight:bold;font-style:italic;font-size:33.5px">V</text>
<text transform="translate(527.99,437.66) scale(1.0952,1)" style="font-family:'Liberation Serif',serif;font-weight:bold;font-style:italic;font-size:19px">B</text>
<text transform="translate(539.05,425.86) scale(1.1109,1)" style="font-family:'Liberation Serif',serif;font-weight:bold;font-style:normal;font-size:33.5px">=</text>
<text transform="translate(557.72,425.86) scale(0.9626,1)" style="font-family:'Liberation Serif',serif;font-weight:bold;font-style:normal;font-size:33.5px">100V)</text>
<text transform="translate(378.88,476.22) scale(0.9187,1)" style="font-family:'Liberation Serif',serif;font-weight:bold;font-style:italic;font-size:33px">η</text>
<text transform="translate(408.07,488.42) scale(1.0027,1)" style="font-family:'Liberation Serif',serif;font-weight:bold;font-style:normal;font-size:19px">LC-LC</text>
<text transform="translate(499.13,476.72) scale(1.0000,1)" style="font-family:'Liberation Serif',serif;font-weight:bold;font-style:normal;font-size:33.5px">(</text>
<text transform="translate(512.26,476.72) scale(0.9358,1)" style="font-family:'Liberation Serif',serif;font-weight:bold;font-style:italic;font-size:33.5px">V</text>
<text transform="translate(531.49,488.52) scale(1.0952,1)" style="font-family:'Liberation Serif',serif;font-weight:bold;font-style:italic;font-size:19px">B</text>
<text transform="translate(542.55,476.72) scale(1.1109,1)" style="font-family:'Liberation Serif',serif;font-weight:bold;font-style:normal;font-size:33.5px">=</text>
<text transform="translate(561.94,476.72) scale(0.9700,1)" style="font-family:'Liberation Serif',serif;font-weight:bold;font-style:normal;font-size:33.5px">75V)</text>
<text transform="translate(378.88,527.08) scale(0.9187,1)" style="font-family:'Liberation Serif',serif;font-weight:bold;font-style:italic;font-size:33px">η</text>
<text transform="translate(408.08,539.28) scale(0.9839,1)" style="font-family:'Liberation Serif',serif;font-weight:bold;font-style:normal;font-size:19px">LCL-LCL</text>
<text transform="translate(499.13,527.58) scale(1.0000,1)" style="font-family:'Liberation Serif',serif;font-weight:bold;font-style:normal;font-size:33.5px">(</text>
<text transform="translate(512.26,527.58) scale(0.9358,1)" style="font-family:'Liberation Serif',serif;font-weight:bold;font-style:italic;font-size:33.5px">V</text>
<text transform="translate(531.49,539.38) scale(1.0952,1)" style="font-family:'Liberation Serif',serif;font-weight:bold;font-style:italic;font-size:19px">B</text>
<text transform="translate(542.55,527.58) scale(1.1109,1)" style="font-family:'Liberation Serif',serif;font-weight:bold;font-style:normal;font-size:33.5px">=</text>
<text transform="translate(561.94,527.58) scale(0.9700,1)" style="font-family:'Liberation Serif',serif;font-weight:bold;font-style:normal;font-size:33.5px">75V)</text>
<text transform="translate(378.88,577.94) scale(0.9187,1)" style="font-family:'Liberation Serif',serif;font-weight:bold;font-style:italic;font-size:33px">η</text>
<text transform="translate(408.07,590.14) scale(1.0027,1)" style="font-family:'Liberation Serif',serif;font-weight:bold;font-style:normal;font-size:19px">LC-LC</text>
<text transform="translate(499.13,578.44) scale(1.0000,1)" style="font-family:'Liberation Serif',serif;font-weight:bold;font-style:normal;font-size:33.5px">(</text>
<text transform="translate(512.26,578.44) scale(0.9358,1)" style="font-family:'Liberation Serif',serif;font-weight:bold;font-style:italic;font-size:33.5px">V</text>
<text transform="translate(531.49,590.24) scale(1.0952,1)" style="font-family:'Liberation Serif',serif;font-weight:bold;font-style:italic;font-size:19px">B</text>
<text transform="translate(542.55,578.44) scale(1.1109,1)" style="font-family:'Liberation Serif',serif;font-weight:bold;font-style:normal;font-size:33.5px">=</text>
<text transform="translate(562.51,578.44) scale(0.9616,1)" style="font-family:'Liberation Serif',serif;font-weight:bold;font-style:normal;font-size:33.5px">50V)</text>
<text transform="translate(378.88,628.80) scale(0.9187,1)" style="font-family:'Liberation Serif',serif;font-weight:bold;font-style:italic;font-size:33px">η</text>
<text transform="translate(408.08,641.00) scale(0.9839,1)" style="font-family:'Liberation Serif',serif;font-weight:bold;font-style:normal;font-size:19px">LCL-LCL</text>
<text transform="translate(499.53,629.30) scale(1.0000,1)" style="font-family:'Liberation Serif',serif;font-weight:bold;font-style:normal;font-size:33.5px">(</text>
<text transform="translate(512.66,629.30) scale(0.9358,1)" style="font-family:'Liberation Serif',serif;font-weight:bold;font-style:italic;font-size:33.5px">V</text>
<text transform="translate(531.89,641.10) scale(1.0952,1)" style="font-family:'Liberation Serif',serif;font-weight:bold;font-style:italic;font-size:19px">B</text>
<text transform="translate(542.95,629.30) scale(1.1109,1)" style="font-family:'Liberation Serif',serif;font-weight:bold;font-style:normal;font-size:33.5px">=</text>
<text transform="translate(562.91,629.30) scale(0.9616,1)" style="font-family:'Liberation Serif',serif;font-weight:bold;font-style:normal;font-size:33.5px">50V)</text>
<text transform="translate(490.02,846.50) scale(0.9085,1)" style="font-family:'Liberation Serif',serif;font-weight:normal;font-style:normal;font-size:42px">(</text>
<text transform="translate(504.40,846.50) scale(1.0825,1)" style="font-family:'Liberation Serif',serif;font-weight:normal;font-style:normal;font-size:42px;stroke:#000;stroke-width:1.0px">b</text>
<text transform="translate(528.07,846.50) scale(0.9085,1)" style="font-family:'Liberation Serif',serif;font-weight:normal;font-style:normal;font-size:42px">)</text>
<g transform="translate(51.9,520.26) rotate(-90)"><text transform="scale(0.9878,1)" style="font-family:'Liberation Serif',serif;font-weight:bold;font-size:39px">Efficiency (100%)</text></g>
</g>
</svg>
</body></html>
